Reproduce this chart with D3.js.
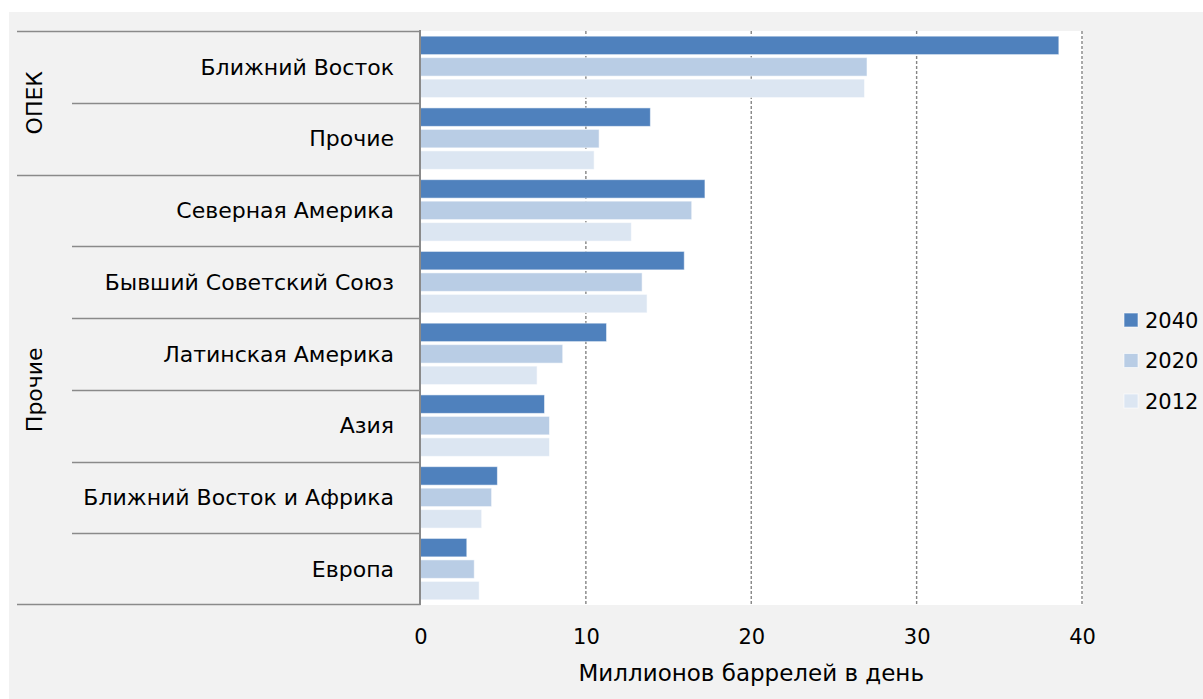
<!DOCTYPE html>
<html>
<head>
<meta charset="utf-8">
<script src="https://cdn.jsdelivr.net/npm/d3@7"></script>
<style>
  html, body { margin: 0; padding: 0; background: #ffffff; }
  svg { display: block; }
  text { font-family: "DejaVu Sans", sans-serif; fill: #000; }
</style>
</head>
<body>
<svg id="chart" width="1203" height="699"></svg>
<script>
// Oil production by region, million barrels per day
const categories = [
  "Ближний Восток",
  "Прочие",
  "Северная Америка",
  "Бывший Советский Союз",
  "Латинская Америка",
  "Азия",
  "Ближний Восток и Африка",
  "Европа"
];
const groups = [
  { name: "ОПЕК", members: ["Ближний Восток", "Прочие"] },
  { name: "Прочие", members: ["Северная Америка", "Бывший Советский Союз", "Латинская Америка", "Азия", "Ближний Восток и Африка", "Европа"] }
];
const seriesNames = ["2040", "2020", "2012"];
const values2040 = [38.6, 13.9, 17.2, 15.95, 11.25, 7.5, 4.65, 2.8];
const values2020 = [27.0, 10.8, 16.4, 13.4, 8.6, 7.8, 4.3, 3.25];
const values2012 = [26.85, 10.5, 12.75, 13.7, 7.05, 7.8, 3.7, 3.55];
const xTicks = [0, 10, 20, 30, 40];
const xTitle = "Миллионов баррелей в день";
const colors = ["#4f81bd", "#b9cde5", "#dce6f2"];

const seriesValues = [values2040, values2020, values2012];

const svg = d3.select("#chart");

// background panel
svg.append("rect").attr("x", 9).attr("y", 12).attr("width", 1194).attr("height", 687).attr("fill", "#f2f2f2");

const plot = { left: 420.5, right: 1082, top: 31, bottom: 605 };
svg.append("rect")
  .attr("x", plot.left).attr("y", plot.top)
  .attr("width", plot.right - plot.left + 1).attr("height", plot.bottom - plot.top)
  .attr("fill", "#ffffff");

const x = d3.scaleLinear().domain([0, 40]).range([plot.left, plot.right]);
const y = d3.scaleBand().domain(categories).range([plot.top, plot.bottom]);
const ySub = d3.scaleBand().domain(seriesNames).range([0, y.bandwidth()])
  .paddingInner(0.14).paddingOuter(0.24);
const color = d3.scaleOrdinal().domain(seriesNames).range(colors);

// dashed vertical gridlines
svg.append("g").selectAll("line")
  .data(xTicks.filter(t => t > 0))
  .join("line")
  .attr("x1", d => x(d)).attr("x2", d => x(d))
  .attr("y1", plot.top).attr("y2", plot.bottom)
  .attr("stroke", "#858585").attr("stroke-width", 1.4)
  .attr("stroke-dasharray", "3,2");

// bars
const rows = categories.map((c, i) => ({ cat: c, vals: seriesNames.map((s, j) => ({ s, v: seriesValues[j][i] })) }));
const rowG = svg.append("g").selectAll("g").data(rows).join("g")
  .attr("transform", d => `translate(0,${y(d.cat)})`);
rowG.selectAll("rect").data(d => d.vals).join("rect")
  .attr("x", x(0))
  .attr("y", d => ySub(d.s))
  .attr("width", d => x(d.v) - x(0))
  .attr("height", ySub.bandwidth())
  .attr("fill", d => color(d.s))
  .attr("stroke", "rgba(255,255,255,0.55)")
  .attr("stroke-width", 1);

// category labels
svg.append("g").selectAll("text").data(categories).join("text")
  .attr("x", 394)
  .attr("y", d => y(d) + y.bandwidth() / 2)
  .attr("dy", "0.35em")
  .attr("text-anchor", "end")
  .attr("font-size", 22)
  .text(d => d);

// separators between categories and groups
const sepColor = "#8a8a8a";
const groupStarts = new Set(groups.map(g => g.members[0]));
categories.forEach(c => {
  const yy = Math.round(y(c)) + 0.5;
  svg.append("line")
    .attr("x1", groupStarts.has(c) ? 17 : 72).attr("x2", plot.left)
    .attr("y1", yy).attr("y2", yy)
    .attr("stroke", sepColor).attr("stroke-width", 1.3);
});
svg.append("line")
  .attr("x1", 17).attr("x2", plot.left)
  .attr("y1", plot.bottom - 0.5).attr("y2", plot.bottom - 0.5)
  .attr("stroke", sepColor).attr("stroke-width", 1.3);

// y axis line
svg.append("line")
  .attr("x1", plot.left - 0.5).attr("x2", plot.left - 0.5)
  .attr("y1", plot.top - 1).attr("y2", plot.bottom)
  .attr("stroke", "#8a8a8a").attr("stroke-width", 2);

// group labels (rotated)
groups.forEach(g => {
  const y0 = y(g.members[0]);
  const y1 = y(g.members[g.members.length - 1]) + y.bandwidth();
  const cy = (y0 + y1) / 2;
  svg.append("text")
    .attr("transform", `translate(34,${cy}) rotate(-90)`)
    .attr("text-anchor", "middle")
    .attr("dy", "0.35em")
    .attr("font-size", 22)
    .text(g.name);
});

// x axis tick labels
const xAxis = d3.axisBottom(x).tickValues(xTicks).tickSize(0).tickPadding(0).tickFormat(d3.format("d"));
const xg = svg.append("g").attr("transform", `translate(0,${plot.bottom})`).call(xAxis);
xg.select(".domain").remove();
xg.selectAll("text")
  .attr("y", 32).attr("dy", "0.35em")
  .attr("font-size", 21)
  .style("font-family", "\"DejaVu Sans\", sans-serif")
  .attr("fill", "#000");

// x axis title
svg.append("text")
  .attr("x", (plot.left + plot.right) / 2)
  .attr("y", 673).attr("dy", "0.35em")
  .attr("text-anchor", "middle")
  .attr("font-size", 23)
  .text(xTitle);

// legend
const legend = svg.append("g").selectAll("g").data(seriesNames).join("g")
  .attr("transform", (d, i) => `translate(1124,${320 + i * 40.5})`);
legend.append("rect")
  .attr("x", 0).attr("y", -7).attr("width", 14).attr("height", 14)
  .attr("fill", d => color(d))
  .attr("stroke", "rgba(255,255,255,0.6)");
legend.append("text")
  .attr("x", 21).attr("y", 0).attr("dy", "0.36em")
  .attr("font-size", 21)
  .text(d => d);
</script>
</body>
</html>
